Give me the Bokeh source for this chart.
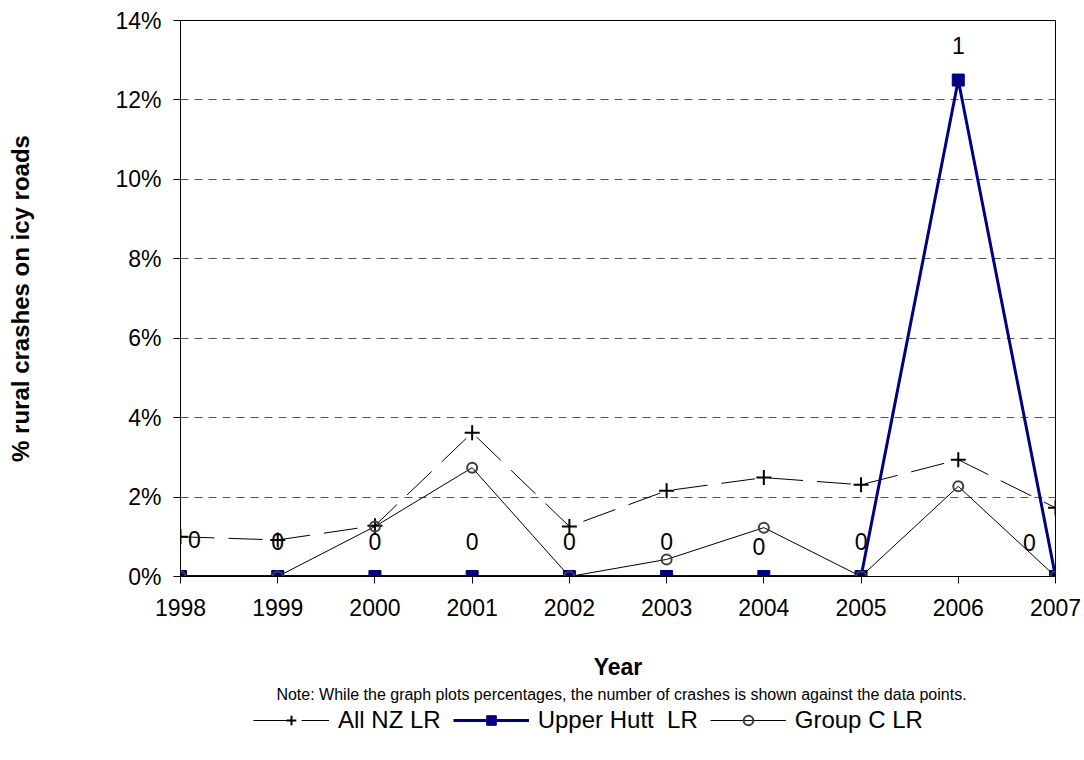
from bokeh.plotting import figure
from bokeh.layouts import column
from bokeh.models import (FixedTicker, NumeralTickFormatter, Legend, LegendItem,
                          ColumnDataSource, Range1d, Label)
from bokeh.core.properties import value
from bokeh.embed import file_html
from bokeh.resources import INLINE

years = [1998, 1999, 2000, 2001, 2002, 2003, 2004, 2005, 2006, 2007]
all_nz = [0.0100, 0.0092, 0.0128, 0.0362, 0.0126, 0.0216, 0.0249, 0.0231, 0.0294, 0.0173]
upper_hutt = [0.0, 0.0, 0.0, 0.0, 0.0, 0.0, 0.0, 0.0, 0.125, 0.0]
group_c = [0.0, 0.0, 0.0126, 0.0274, 0.0, 0.0043, 0.0123, 0.0, 0.0227, 0.0]
upper_hutt_counts = ["0", "0", "0", "0", "0", "0", "0", "0", "1", "0"]
y_ticks = [0.0, 0.02, 0.04, 0.06, 0.08, 0.10, 0.12, 0.14]
series_names = ["All NZ LR", "Upper Hutt  LR", "Group C LR"]
y_title = "% rural crashes on icy roads"
x_title = "Year"
note_text = "Note: While the graph plots percentages, the number of crashes is shown against the data points."

# label offsets (screen px, styling only)
lab_dx = [14, 0, 0, 0, 0, 0, -5, 0, 0, -26]
lab_dy = [-37, -35, -35, -35, -35, -35, -30, -35, -35, -34]

FONT = "Liberation Sans"
W = 1084
H1, H2 = 682, 78
FRAME_L = 180

p = figure(width=W, height=H1, output_backend="svg", toolbar_location=None,
           x_range=Range1d(1998, 2007), y_range=Range1d(0, 0.14),
           min_border_left=FRAME_L, min_border_right=W - 1055, min_border_top=20,
           min_border_bottom=H1 - 577)
p.outline_line_color = "black"
p.outline_line_width = 1
p.background_fill_color = "white"
p.border_fill_color = "white"

p.xgrid.visible = False
p.ygrid.grid_line_color = "#555555"
p.ygrid.grid_line_dash = "8 6"
p.ygrid.grid_line_width = 1

for ax in (p.xaxis[0], p.yaxis[0]):
    ax.axis_line_color = "black"
    ax.major_tick_line_color = "black"
    ax.minor_tick_line_color = None
    ax.major_tick_in = 0
    ax.major_tick_out = 7
    ax.major_label_text_font = FONT
    ax.major_label_text_font_size = "23px"
    ax.major_label_text_color = "black"
    ax.axis_label_text_font = FONT
    ax.axis_label_text_font_size = "23px"
    ax.axis_label_text_font_style = "bold"
    ax.axis_label_text_color = "black"

p.xaxis.ticker = FixedTicker(ticks=years)
p.yaxis.ticker = FixedTicker(ticks=y_ticks)
p.yaxis.formatter = NumeralTickFormatter(format="0%")
p.yaxis.major_label_standoff = 12
p.xaxis.major_label_standoff = 15
p.yaxis.axis_label = y_title
p.yaxis.axis_label_standoff = 78
p.yaxis.axis_label_text_font_size = "24px"
p.xaxis.axis_label = x_title
p.xaxis.axis_label_standoff = 35

src = ColumnDataSource(dict(x=years, nz=all_nz, uh=upper_hutt, gc=group_c,
                            lab=upper_hutt_counts, dx=lab_dx, dy=lab_dy))

NZ_STYLE = dict(line_color="black", line_width=1, line_dash="34 14")
NZ_MK = dict(marker="cross", size=15, line_color="black", line_width=2)
UH_STYLE = dict(line_color="#000080", line_width=3)
UH_MK = dict(marker="square", size=12, fill_color="#000080", line_color="#000080")
GC_STYLE = dict(line_color="black", line_width=1)
GC_MK = dict(marker="circle", size=10, fill_alpha=0, line_color="#404040", line_width=2)

p.line("x", "nz", source=src, **NZ_STYLE)
p.scatter("x", "nz", source=src, **NZ_MK)
p.line("x", "uh", source=src, **UH_STYLE)
p.scatter("x", "uh", source=src, **UH_MK)
p.line("x", "gc", source=src, **GC_STYLE)
p.scatter("x", "gc", source=src, **GC_MK)

p.text("x", "uh", text="lab", source=src, x_offset="dx", y_offset="dy",
       text_font=value(FONT), text_font_size="23px", text_color="black",
       text_align="center", text_baseline="middle")

# ---- bottom strip: note + legend (frame aligned with the chart above) ----
p2 = figure(width=W, height=H2, output_backend="svg", toolbar_location=None,
            x_range=Range1d(0, 1), y_range=Range1d(0, 1),
            min_border=0, min_border_left=FRAME_L, min_border_right=W - 1055,
            min_border_top=0, min_border_bottom=0)
p2.axis.visible = False
p2.grid.visible = False
p2.outline_line_color = None
p2.background_fill_color = "white"
p2.border_fill_color = "white"

# legend proxies: same series, outside this strip's view range
l1 = p2.line("x", "nz", source=src, **NZ_STYLE)
m1 = p2.scatter("x", "nz", source=src, **NZ_MK)
l2 = p2.line("x", "uh", source=src, **UH_STYLE)
m2 = p2.scatter("x", "uh", source=src, **UH_MK)
l3 = p2.line("x", "gc", source=src, **GC_STYLE)
m3 = p2.scatter("x", "gc", source=src, **GC_MK)

legend = Legend(items=[
    LegendItem(label=series_names[0], renderers=[l1, m1]),
    LegendItem(label=series_names[1], renderers=[l2, m2]),
    LegendItem(label=series_names[2], renderers=[l3, m3]),
], orientation="horizontal", location=(253 - FRAME_L, 26), padding=0, margin=0, spacing=12,
    glyph_width=76, glyph_height=24, label_standoff=9, label_height=24,
    label_text_font=FONT, label_text_font_size="24px", label_text_color="black",
    background_fill_alpha=0, border_line_color=None)
p2.add_layout(legend, "center")

p2.add_layout(Label(x=621 - FRAME_L, y=H2 - 12, x_units="screen", y_units="screen", text=note_text,
                    text_font=FONT, text_font_size="16px", text_color="black",
                    text_align="center", text_baseline="middle"))

layout = column(p, p2, spacing=0)
open("out.html", "w").write(file_html(layout, INLINE))
